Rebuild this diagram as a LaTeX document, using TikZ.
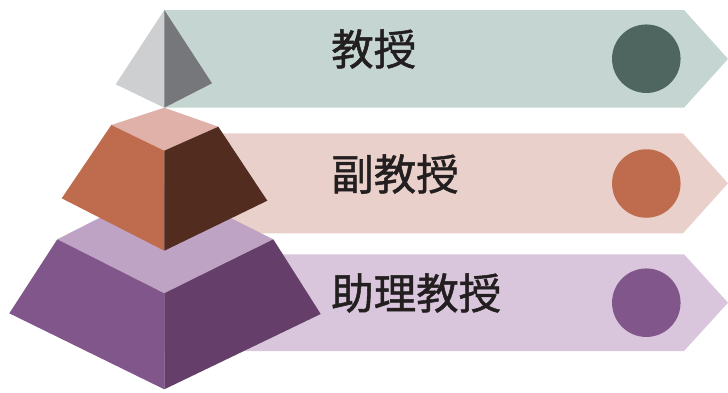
\documentclass[tikz,border=0pt]{standalone}
\usepackage{fontspec}
\newfontfamily\cjk[RawFeature={embolden=1.2}]{Noto Sans CJK TC}
\definecolor{bandA}{HTML}{C5D5D2}
\definecolor{dotA}{HTML}{4F6560}
\definecolor{tipL}{HTML}{CDCFD1}
\definecolor{tipR}{HTML}{76777A}
\definecolor{bandB}{HTML}{EAD0CB}
\definecolor{dotB}{HTML}{BE6B4E}
\definecolor{midT}{HTML}{DFB1A8}
\definecolor{midL}{HTML}{BE6B4E}
\definecolor{midR}{HTML}{512C1F}
\definecolor{bandC}{HTML}{D9C6DC}
\definecolor{dotC}{HTML}{81578B}
\definecolor{lowT}{HTML}{BEA3C4}
\definecolor{lowL}{HTML}{81568A}
\definecolor{lowR}{HTML}{653F69}
\definecolor{ink}{HTML}{231F20}
\tikzset{
  rank/.style={anchor=west, inner sep=0pt, text=ink, font=\cjk\fontsize{42.5}{42.5}\selectfont},
  dot/.style={circle, minimum size=68.5pt, inner sep=0pt},
}
\begin{document}
\begin{tikzpicture}[x=1pt, y=-1pt]
\useasboundingbox (0,0) rectangle (728,392);
% arrow-shaped bands
\fill[bandA] (164,10) -- (684,10) -- (728,58.9) -- (684,107.7) -- (164,107.7) -- cycle;
\fill[bandB] (164,133.3) -- (683,133.3) -- (728,183.3) -- (683,233.3) -- (164,233.3) -- cycle;
\fill[bandC] (164,254.3) -- (684,254.3) -- (728,302.7) -- (684,351) -- (164,351) -- cycle;
% markers
\node[dot, fill=dotA] (dA) at (646.3,58.7) {};
\node[dot, fill=dotB] (dB) at (646.3,183.5) {};
\node[dot, fill=dotC] (dC) at (646.3,302.7) {};
% labels
\node[rank] (tA) at (331,49) {教授};
\node[rank] (tB) at (331,174) {副教授};
\node[rank] (tC) at (331,293) {助理教授};
% lowest tier
\fill[lowT] (57.3,239.3) -- (164.3,185) -- (273.3,239.3) -- (164.3,293.3) -- cycle;
\fill[lowL] (57.3,239.3) -- (164.3,293.3) -- (164.3,389.3) -- (9.3,313.3) -- cycle;
\fill[lowR] (273.3,239.3) -- (164.3,293.3) -- (164.3,389.3) -- (320.7,314) -- cycle;
% middle tier
\fill[midT] (111.3,125) -- (164.3,107.7) -- (218.3,126.7) -- (164.3,150.7) -- cycle;
\fill[midL] (111.3,125) -- (164.3,150.7) -- (164.3,250.7) -- (61.7,198.3) -- cycle;
\fill[midR] (218.3,126.7) -- (164.3,150.7) -- (164.3,250.7) -- (267.3,200.7) -- cycle;
% apex
\fill[tipL] (164.3,10) -- (115.7,84.3) -- (164.3,107.7) -- cycle;
\fill[tipR] (164.3,10) -- (212,83.3) -- (164.3,107.7) -- cycle;
\end{tikzpicture}
\end{document}
